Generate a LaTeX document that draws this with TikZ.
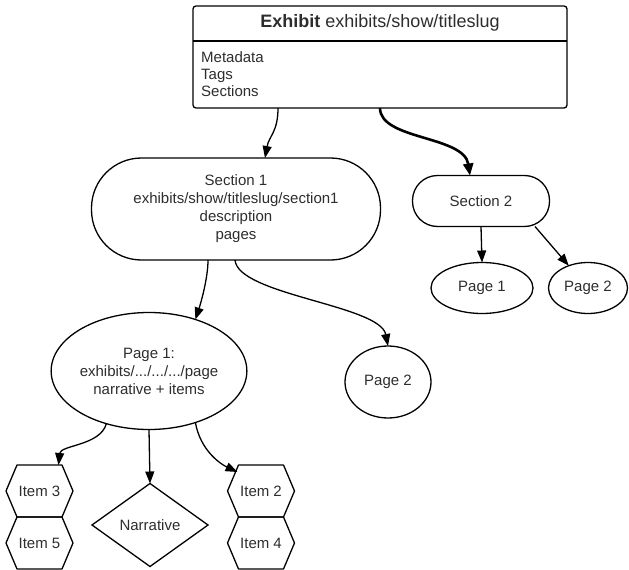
\documentclass[tikz,border=0pt]{standalone}
\usepackage{fontspec}
\setmainfont{Liberation Sans}
\usetikzlibrary{arrows.meta,shapes.geometric,calc}
\definecolor{txt}{RGB}{45,45,45}
\tikzset{
  base/.style={draw=black, line width=1.3pt, text=txt, inner sep=0pt, outer sep=0pt, align=center,
    font=\fontsize{15}{18}\selectfont},
  stadium/.style={base, rectangle},
  oval/.style={base, ellipse},
  hexbox/.style={draw=none, text=txt, inner sep=0pt, outer sep=0pt, minimum width=67pt, minimum height=52pt,
    font=\fontsize{15}{18}\selectfont},
  diam/.style={base, diamond},
  arr/.style={line width=1.3pt, -{Triangle[length=12pt,width=9pt]}},
  thickarr/.style={line width=2.6pt, -{Triangle[length=12pt,width=10pt]}},
}
\newcommand{\hexdraw}[1]{%
  \draw[line width=1.3pt, line join=round] (#1.west) -- ($(#1.north west)+(11,0)$) -- ($(#1.north east)+(-11,0)$)
    -- (#1.east) -- ($(#1.south east)+(-11,0)$) -- ($(#1.south west)+(11,0)$) -- cycle;}
\begin{document}
\begin{tikzpicture}[x=1pt,y=-1pt]
\useasboundingbox (0,0) rectangle (629,570);
% Exhibit box
\node[draw=black, line width=1.3pt, rounded corners=3pt, minimum width=374pt, minimum height=102pt, inner sep=0pt, outer sep=0pt] (ex) at (380,57) {};
\draw[line width=1.3pt] (ex.west |- 0,41) -- (ex.east |- 0,41);
\node[text=txt, font=\fontsize{18}{21}\selectfont] (extitle) at (380,23) {\textbf{Exhibit} exhibits/show/titleslug};
\node[text=txt, anchor=west, align=left, inner sep=0pt, font=\fontsize{15}{17}\selectfont] (exbody) at (201,74) {Metadata\\Tags\\Sections};
% Sections
\node[stadium, rounded corners=50pt, minimum width=289pt, minimum height=102pt] (s1) at (236,209)
  {Section 1\\exhibits/show/titleslug/section1\\description\\pages};
\node[stadium, rounded corners=25pt, minimum width=137pt, minimum height=51pt] (s2) at (481,201) {Section 2};
% Section 2 pages
\node[oval, minimum width=102pt, minimum height=51pt] (sp1) at (482,288) {Page 1};
\node[oval, minimum width=79pt, minimum height=51pt] (sp2) at (588,288) {Page 2};
% Section 1 pages
\node[oval, minimum width=185pt, minimum height=117pt] (p1) at (149,371) {Page 1:\\exhibits/.../.../.../page\\narrative + items};
\node[oval, minimum width=86pt, minimum height=72pt] (pp2) at (388,382) {Page 2};
% Items
\node[hexbox] (i3) at (39.5,491) {Item 3};
\node[hexbox] (i5) at (39.5,543) {Item 5};
\node[hexbox] (i2) at (261,491) {Item 2};
\node[hexbox] (i4) at (261,543) {Item 4};
\hexdraw{i3}\hexdraw{i5}\hexdraw{i2}\hexdraw{i4}
\node[diam, minimum width=116pt, minimum height=83pt] (nar) at (150,525) {Narrative};
% Connectors
\draw[arr] ([xshift=-102pt]ex.south) .. controls +(0,24) and +(4,-22) .. ([xshift=29pt]s1.north);
\draw[thickarr] (ex.south) .. controls +(0,32) and +(-6,-40) .. ([xshift=-11pt]s2.north);
\draw[arr] (s2.south) -- (sp1.north);
\draw[arr] ([xshift=54pt]s2.south) -- (sp2);
\draw[arr] ([xshift=-28pt]s1.south) .. controls +(0,20) and +(4,-12) .. (p1.48);
\draw[arr] ([xshift=-1pt]s1.south) .. controls +(3,35) and +(-8,-41) .. (pp2.north);
\draw[arr] (p1.231) .. controls +(-6,22) and +(2,-20) .. ([xshift=19pt]i3.north);
\draw[arr] (p1.south) -- (nar.north);
\draw[arr] (p1.312) .. controls +(5,28) and +(-17,-8) .. ($(i2.north west)+(10,7)$);
\end{tikzpicture}
\end{document}
